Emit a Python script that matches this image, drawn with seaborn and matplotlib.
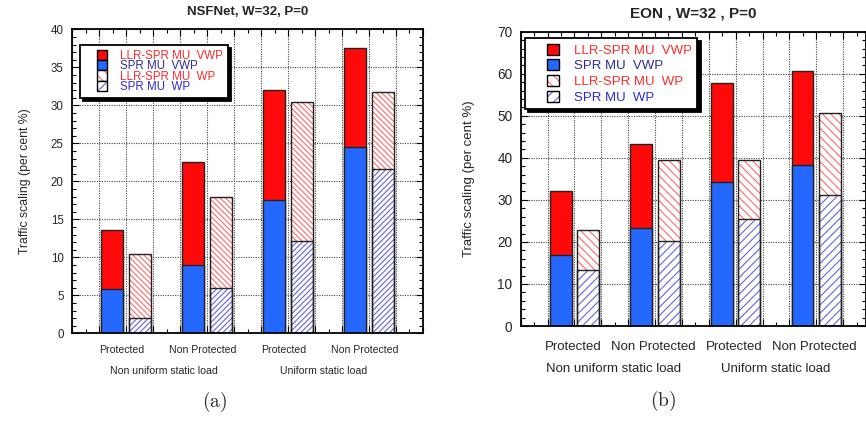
import numpy as np
import pandas as pd
import matplotlib
matplotlib.use("Agg")
import matplotlib.pyplot as plt
import seaborn as sns
from matplotlib.patches import Patch, Rectangle
from matplotlib.legend_handler import HandlerPatch, HandlerTuple
from matplotlib.ticker import MultipleLocator, AutoMinorLocator
import matplotlib.transforms as mtransforms

# ---------------- data ----------------
categories = ["Protected", "Non Protected", "Protected", "Non Protected"]
groups = ["Non uniform static load", "Uniform static load"]
series_labels = ["LLR-SPR MU  VWP", "SPR MU  VWP", "LLR-SPR MU  WP", "SPR MU  WP"]

nsf_llr_vwp = [13.6, 22.5, 32.0, 37.5]
nsf_spr_vwp = [5.8, 9.0, 17.5, 24.5]
nsf_llr_wp = [10.4, 18.0, 30.5, 31.7]
nsf_spr_wp = [2.0, 5.9, 12.1, 21.6]

eon_llr_vwp = [32.0, 43.3, 57.7, 60.6]
eon_spr_vwp = [17.0, 23.4, 34.3, 38.2]
eon_llr_wp = [22.8, 39.6, 39.6, 50.6]
eon_spr_wp = [13.4, 20.2, 25.4, 31.2]

# ---------------- style ----------------
sns.set_style("ticks")
plt.rcParams["font.family"] = ["Liberation Sans", "DejaVu Sans"]
plt.rcParams["mathtext.fontset"] = "cm"
plt.rcParams["hatch.linewidth"] = 0.8

RED = "#ff0a0a"
BLUE = "#2468ff"
HRED = "#ff6a6a"
HBLUE = "#6464dc"
EDGE = "#222222"

W, H = 866, 421
fig = plt.figure(figsize=(W / 100, H / 100), dpi=100)


def px_axes(l, t, r, b):
    return fig.add_axes([l / W, 1 - b / H, (r - l) / W, (b - t) / H])


def bars(ax, x, vals, **kw):
    df = pd.DataFrame({"x": x, "y": vals})
    sns.barplot(data=df, x="x", y="y", native_scale=True, width=0.27,
                errorbar=None, saturation=1, ax=ax, **kw)


def rect_func(w, h):
    def f(legend, orig_handle, xdescent, ydescent, width, height, fontsize):
        return Rectangle((-xdescent + width - w, -ydescent + (height - h) / 2), w, h)
    return f


def panel(ax, llr_vwp, spr_vwp, llr_wp, spr_wp, hatch_r, hatch_b):
    pos = np.arange(len(categories))
    xs = pos - 0.17
    xh = pos + 0.17
    # solid stacked bars (VWP)
    bars(ax, xs, llr_vwp, color=RED, edgecolor=EDGE, linewidth=1.0)
    bars(ax, xs, spr_vwp, color=BLUE, edgecolor=EDGE, linewidth=1.0)
    # hatched stacked bars (WP)
    bars(ax, xh, llr_wp, color="white", edgecolor=HRED, linewidth=0, hatch=hatch_r)
    bars(ax, xh, spr_wp, color="white", edgecolor=HBLUE, linewidth=0, hatch=hatch_b)
    bars(ax, xh, llr_wp, color=EDGE, fill=False, linewidth=1.0)
    bars(ax, xh, spr_wp, color=EDGE, fill=False, linewidth=1.0)
    ax.set_xlabel("")
    ax.set_ylabel("")
    ax.set_axisbelow(True)
    ax.xaxis.set_major_locator(MultipleLocator(1 / 3, offset=1 / 3))
    ax.xaxis.set_minor_locator(MultipleLocator(1 / 3, offset=1 / 6))
    ax.set_xticklabels([])
    ax.tick_params(which="both", direction="in", top=True, right=True, color="black")
    ax.tick_params(which="major", length=5, width=0.8)
    ax.tick_params(which="minor", length=3, width=0.8)
    ax.grid(True, which="major", linestyle=(0, (1, 1.2)), color="#444444", linewidth=0.8)
    for s in ax.spines.values():
        s.set_linewidth(1.3)
        s.set_color("black")


def make_legend(ax, fs, anchor, hl, htp, ls, sw, sh):
    handles = [
        Patch(facecolor=RED, edgecolor="black", linewidth=1.0),
        Patch(facecolor=BLUE, edgecolor="black", linewidth=1.0),
        (Patch(facecolor="white", edgecolor=HRED, linewidth=0, hatch="\\\\\\"),
         Patch(facecolor="none", edgecolor="black", linewidth=1.0)),
        (Patch(facecolor="white", edgecolor=HBLUE, linewidth=0, hatch="///"),
         Patch(facecolor="none", edgecolor="black", linewidth=1.0)),
    ]
    hmap = {Patch: HandlerPatch(patch_func=rect_func(sw, sh)),
            tuple: HandlerTuple(ndivide=1, pad=0)}
    leg = ax.legend(handles, series_labels, handler_map=hmap, loc="upper left",
                    bbox_to_anchor=anchor, borderaxespad=0, fontsize=fs,
                    handlelength=hl, handleheight=1.0, handletextpad=htp,
                    labelspacing=ls, borderpad=0.4, fancybox=False, frameon=True,
                    shadow={"ox": 2.4, "oy": -2.4, "color": "black", "alpha": 1})
    fr = leg.get_frame()
    fr.set_edgecolor("black")
    fr.set_linewidth(1.3)
    fr.set_facecolor("white")
    fr.set_alpha(1)
    cols = ["#ff2a2a", "#2c2c96", "#ff2a2a", "#2a2ad6"]
    for t, c in zip(leg.get_texts(), cols):
        t.set_color(c)
    return leg


# ---------------- panel (a) ----------------
ax1 = px_axes(72, 29.3, 423, 333.3)
panel(ax1, nsf_llr_vwp, nsf_spr_vwp, nsf_llr_wp, nsf_spr_wp, "\\" * 6, "/" * 6)
ax1.set_xlim(-2 / 3, 3 + 2 / 3)
ax1.set_ylim(0, 40)
ax1.yaxis.set_major_locator(MultipleLocator(5))
ax1.yaxis.set_minor_locator(AutoMinorLocator(5))
ax1.tick_params(axis="y", labelsize=8.3, pad=6)
ax1.set_title("NSFNet, W=32, P=0", fontsize=9.5, fontweight="bold", pad=10)
ax1.set_ylabel("Traffic scaling (per cent %)", fontsize=8.8, labelpad=14)
make_legend(ax1, 8.3, (0.023, 0.948), 1.97, 1.1, -0.15, 7.2, 7.5)
tr1 = mtransforms.blended_transform_factory(ax1.transData, ax1.transAxes)
for i, c in enumerate(categories):
    ax1.text(i - 0.05, -0.055, c, transform=tr1, ha="center", va="center", fontsize=7.6)
for gx, g in zip([0.47, 2.44], groups):
    ax1.text(gx, -0.124, g, transform=tr1, ha="center", va="center", fontsize=7.6)

# ---------------- panel (b) ----------------
ax2 = px_axes(520.7, 31.7, 866, 326)
panel(ax2, eon_llr_vwp, eon_spr_vwp, eon_llr_wp, eon_spr_wp, "\\" * 4, "/" * 4)
ax2.set_xlim(-2 / 3, 3.617)
ax2.set_ylim(0, 70)
ax2.yaxis.set_major_locator(MultipleLocator(10))
ax2.yaxis.set_minor_locator(AutoMinorLocator(5))
ax2.tick_params(axis="y", labelsize=9.8, pad=6)
ax2.set_title("EON , W=32 , P=0", fontsize=11, fontweight="bold", pad=10)
ax2.set_ylabel("Traffic scaling (per cent %)", fontsize=9.5, labelpad=16)
make_legend(ax2, 9.5, (0.0125, 0.9786), 2.17, 1.14, 0.17, 8.4, 7.7)
tr2 = mtransforms.blended_transform_factory(ax2.transData, ax2.transAxes)
for i, c in enumerate(categories):
    ax2.text(i - 0.02, -0.070, c, transform=tr2, ha="center", va="center", fontsize=9.5)
for gx, g in zip([0.49, 2.5], groups):
    ax2.text(gx, -0.146, g, transform=tr2, ha="center", va="center", fontsize=9.5)

fig.text(215 / W, 1 - 402 / H, r"$\mathrm{(a)}$", ha="center", va="center", fontsize=14)
fig.text(663.5 / W, 1 - 401 / H, r"$\mathrm{(b)}$", ha="center", va="center", fontsize=14)

fig.savefig("out.png", dpi=100)
